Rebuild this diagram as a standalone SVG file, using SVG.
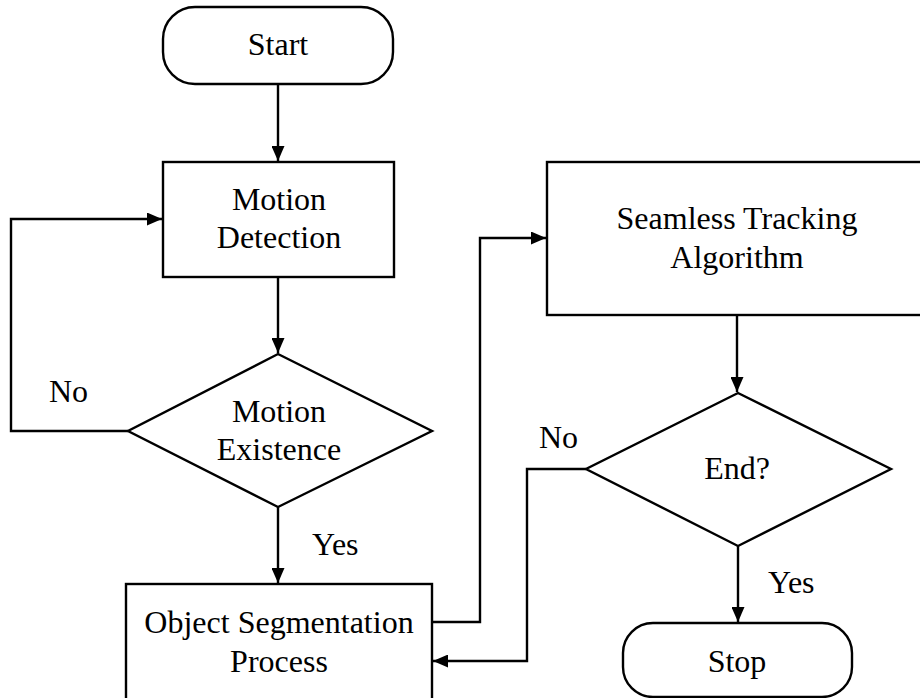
<svg xmlns="http://www.w3.org/2000/svg" width="920" height="698" viewBox="0 0 920 698">
  <style>
    .shape { fill: #ffffff; stroke: #000000; stroke-width: 2.4; }
    .wire { fill: none; stroke: #000000; stroke-width: 2.4; }
    text { font-family: "Liberation Serif", "Times New Roman", serif; font-size: 32px; fill: #000000; text-anchor: middle; }
    .lbl { text-anchor: start; }
  </style>
  <defs>
    <marker id="arrow" viewBox="0 0 15 13" refX="15" refY="6.5" markerWidth="15" markerHeight="13" markerUnits="userSpaceOnUse" orient="auto">
      <path d="M0,0 L15,6.5 L0,13 Z" fill="#000000"/>
    </marker>
  </defs>
  <rect width="920" height="698" fill="#ffffff"/>

  <g id="connectors">
    <path class="wire" d="M278,84 V161" marker-end="url(#arrow)"/>
    <path class="wire" d="M278,277 V353" marker-end="url(#arrow)"/>
    <path class="wire" d="M128,431 H11 V219 H162" marker-end="url(#arrow)"/>
    <path class="wire" d="M278,507 V583" marker-end="url(#arrow)"/>
    <path class="wire" d="M432,622 H480 V238 H546" marker-end="url(#arrow)"/>
    <path class="wire" d="M737,315 V392" marker-end="url(#arrow)"/>
    <path class="wire" d="M586,469 H527 V661 H433" marker-end="url(#arrow)"/>
    <path class="wire" d="M738,546 V622" marker-end="url(#arrow)"/>
    <text class="lbl" x="49" y="402">No</text>
    <text class="lbl" x="312" y="555">Yes</text>
    <text class="lbl" x="539" y="448">No</text>
    <text class="lbl" x="768" y="593">Yes</text>
  </g>

  <g id="start">
    <rect class="shape" x="163" y="7" width="230" height="77" rx="32" ry="32"/>
    <text x="278" y="55">Start</text>
  </g>

  <g id="motion-detection">
    <rect class="shape" x="163" y="162" width="231" height="115"/>
    <text x="279" y="210">Motion</text>
    <text x="279" y="248">Detection</text>
  </g>

  <g id="motion-existence">
    <polygon class="shape" points="278,354 432,431 278,507 128,431"/>
    <text x="279" y="422">Motion</text>
    <text x="279" y="460">Existence</text>
  </g>

  <g id="object-segmentation">
    <rect class="shape" x="126" y="584" width="306" height="130"/>
    <text x="279" y="633">Object Segmentation</text>
    <text x="279" y="672">Process</text>
  </g>

  <g id="seamless-tracking">
    <rect class="shape" x="547" y="162" width="385" height="153"/>
    <text x="737" y="229">Seamless Tracking</text>
    <text x="737" y="268">Algorithm</text>
  </g>

  <g id="end-decision">
    <polygon class="shape" points="738,393 891,469 738,546 586,469"/>
    <text x="737" y="479">End?</text>
  </g>

  <g id="stop">
    <rect class="shape" x="623" y="623" width="229" height="74" rx="30" ry="30"/>
    <text x="737" y="672">Stop</text>
  </g>
</svg>
